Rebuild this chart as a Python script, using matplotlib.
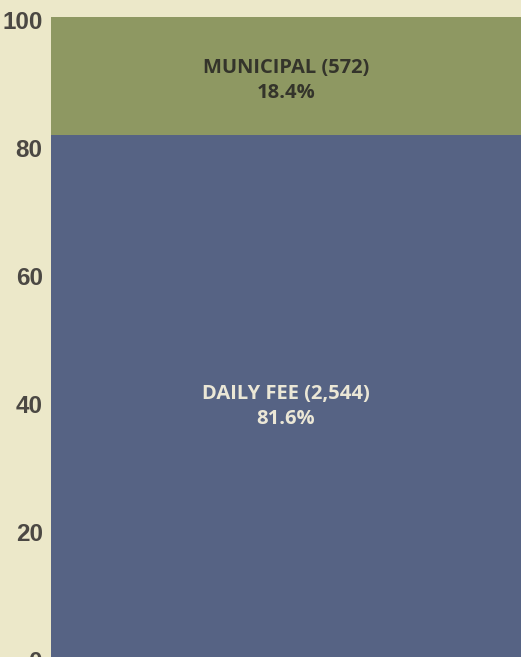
import matplotlib
matplotlib.use('Agg')
import matplotlib.pyplot as plt
import matplotlib.transforms as mtransforms

# data
segments = ['DAILY FEE', 'MUNICIPAL']
counts = [2544, 572]
shares = [81.6, 18.4]
colors = ['#566384', '#8e9862']
text_colors = ['#ebe7d6', '#34342b']
yticks = [0, 20, 40, 60, 80, 100]

BG = '#ece8c9'

fig = plt.figure(figsize=(5.21, 6.57), dpi=100, facecolor=BG)
ax = fig.add_axes([51 / 521, 0.0, 1 - 51 / 521, 1 - 17 / 657])
ax.set_facecolor(BG)

bottom = 0
for name, n, pct, c, tc in zip(segments, counts, shares, colors, text_colors):
    ax.bar([0], [pct], bottom=bottom, width=1.0, color=c, linewidth=0)
    # big segment label sits a bit below its middle, like the original
    ymid = bottom + pct * 0.48 if pct > 50 else bottom + pct * 0.46
    ax.text(0, ymid, f'{name} ({n:,})\n{pct:.1f}%', ha='center', va='center',
            color=tc, fontsize=14.5, fontweight='bold', family='Open Sans',
            linespacing=1.3)
    bottom += pct

ax.set_xlim(-0.5, 0.5)
ax.set_ylim(0, 100)
ax.set_xticks([])
ax.set_yticks(yticks)
ax.set_yticklabels([str(t) for t in yticks], fontsize=17.5, fontweight='bold',
                   family='Liberation Sans', color='#4b4843')
ax.tick_params(axis='y', length=0, pad=6)
offset = mtransforms.ScaledTranslation(0, -2 / 72, fig.dpi_scale_trans)
for lbl in ax.get_yticklabels():
    lbl.set_transform(lbl.get_transform() + offset)
for s in ax.spines.values():
    s.set_visible(False)

fig.savefig('out.png', dpi=100, facecolor=BG)
